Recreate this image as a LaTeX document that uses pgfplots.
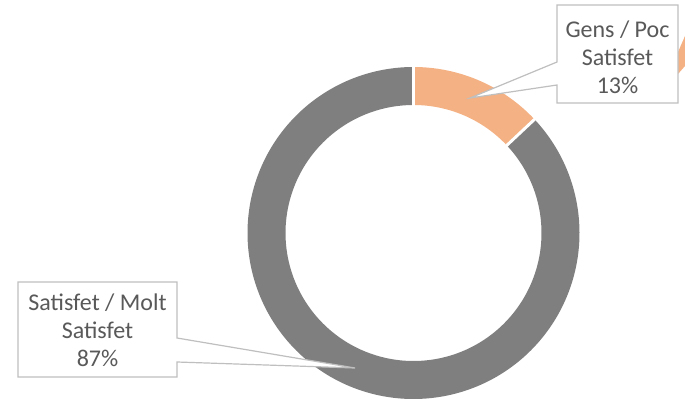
\documentclass[border=0pt]{standalone}
\usepackage{pgfplots}
\pgfplotsset{compat=1.18}
\usepackage{pgfplotstable}
\usepackage{fontspec}
\setmainfont{Carlito}
\definecolor{sliceA}{HTML}{F4B183}
\definecolor{sliceB}{HTML}{7F7F7F}
\definecolor{boxline}{HTML}{BFBFBF}
\definecolor{txt}{HTML}{595959}
% share values (percent)
\pgfplotstableread{
label value
GensPoc 13
SatisfetMolt 87
}\datatable
\pgfplotstablegetelem{0}{value}\of\datatable \let\va\pgfplotsretval
\pgfplotstablegetelem{1}{value}\of\datatable \let\vb\pgfplotsretval
\pgfmathsetmacro{\angA}{360*\va/(\va+\vb)}
\begin{document}
\begin{tikzpicture}
\begin{axis}[
  width=513.75pt, height=299.25pt, scale only axis,
  xmin=0, xmax=685, ymin=0, ymax=399, y dir=reverse,
  hide axis, clip=true,
]
% ring: mid radius 147 px, thickness 38 px (0.75pt per px)
\addplot[draw=sliceA, line width=28.5pt, domain=0:\angA, samples=120, variable=\t]
  ({413.5+147*sin(t)},{233-147*cos(t)});
\addplot[draw=sliceB, line width=28.5pt, domain=\angA:360, samples=300, variable=\t]
  ({413.5+147*sin(t)},{233-147*cos(t)});
% white separators between slices
\addplot[draw=white, line width=2.2pt, domain=125:170, samples=2, variable=\r]
  ({413.5+\r*sin(0)},{233-\r*cos(0)});
\addplot[draw=white, line width=2.2pt, domain=125:170, samples=2, variable=\r]
  ({413.5+\r*sin(\angA)},{233-\r*cos(\angA)});
% small orange fragment at right edge
\addplot[fill=sliceA, draw=none] coordinates {(678,52) (685,36) (685,66) (678,74)} --cycle;
% callouts
\addplot[fill=white, draw=boxline, line width=0.9pt] coordinates
  {(557,5) (678,5) (678,103) (557,103) (557,85) (470,98) (557,62)} --cycle;
\addplot[fill=white, draw=boxline, line width=0.9pt] coordinates
  {(18,282) (177,282) (177,338) (355,368) (177,362) (177,377) (18,377)} --cycle;
\node[text=txt, align=center, font=\fontsize{18}{21}\selectfont, anchor=center]
  at (axis cs:617.5,57) {Gens / Poc\\Satisfet\\13\%};
\node[text=txt, align=center, font=\fontsize{18}{21}\selectfont, anchor=center]
  at (axis cs:97.5,330) {Satisfet / Molt\\Satisfet\\87\%};
\coordinate (bbA) at (rel axis cs:0,0);
\coordinate (bbB) at (rel axis cs:1,1);
\end{axis}
\pgfresetboundingbox
\useasboundingbox (bbA) rectangle (bbB);
\end{tikzpicture}
\end{document}
